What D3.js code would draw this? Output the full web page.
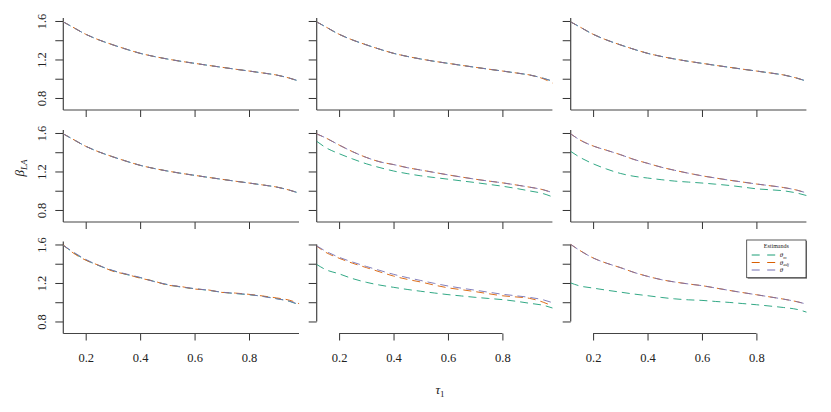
<!DOCTYPE html>
<html>
<head>
<meta charset="utf-8">
<script src="https://cdn.jsdelivr.net/npm/d3@7"></script>
<style>
  body { margin: 0; background: white; }
  text { font-family: "Liberation Serif", "DejaVu Serif", serif; fill: #222; }
</style>
</head>
<body>
<div id="viz"></div>
<script>
// tau grid shared by every panel
var tau = [0.118, 0.15, 0.2, 0.25, 0.3, 0.35, 0.4, 0.45, 0.5, 0.55, 0.6, 0.65, 0.7, 0.75, 0.8, 0.85, 0.9, 0.95, 0.984]

var xTicks = [0.2, 0.4, 0.6, 0.8]
var yTicks = [0.8, 1.0, 1.2, 1.4, 1.6]
var yLabels = [0.8, 1.2, 1.6]

var seriesNames = ["θm", "θadj", "θ"]
var seriesColors = ["#1B9E77", "#D95F02", "#7570B3"]

// values, one array per panel and estimand
var base = [1.59, 1.54, 1.462, 1.402, 1.352, 1.306, 1.264, 1.232, 1.205, 1.181, 1.16, 1.139, 1.119, 1.099, 1.08, 1.06, 1.039, 1.005, 0.975]
var r1c2Adj = [1.59, 1.54, 1.462, 1.402, 1.352, 1.306, 1.264, 1.232, 1.205, 1.181, 1.16, 1.139, 1.119, 1.099, 1.08, 1.06, 1.039, 1.0, 0.955]

var r2c2M = [1.513, 1.45, 1.385, 1.33, 1.28, 1.24, 1.205, 1.178, 1.155, 1.137, 1.12, 1.102, 1.085, 1.066, 1.047, 1.024, 0.998, 0.97, 0.936]
var r2c2T = [1.59, 1.55, 1.475, 1.405, 1.346, 1.30, 1.272, 1.24, 1.215, 1.19, 1.165, 1.142, 1.12, 1.10, 1.082, 1.06, 1.037, 1.01, 0.98]

var r2c3M = [1.408, 1.35, 1.28, 1.225, 1.18, 1.15, 1.132, 1.115, 1.10, 1.09, 1.08, 1.068, 1.055, 1.038, 1.02, 1.01, 0.999, 0.975, 0.95]
var r2c3T = [1.59, 1.53, 1.465, 1.42, 1.375, 1.325, 1.285, 1.245, 1.212, 1.182, 1.155, 1.132, 1.11, 1.09, 1.07, 1.052, 1.033, 1.005, 0.977]

var r3c1M = [1.59, 1.525, 1.44, 1.378, 1.328, 1.288, 1.255, 1.218, 1.182, 1.158, 1.14, 1.124, 1.104, 1.09, 1.078, 1.062, 1.038, 1.008, 0.972]
var r3c1Adj = [1.595, 1.52, 1.437, 1.382, 1.322, 1.29, 1.25, 1.22, 1.178, 1.163, 1.137, 1.128, 1.102, 1.095, 1.082, 1.065, 1.045, 1.02, 0.985]
var r3c1T = [1.59, 1.53, 1.445, 1.38, 1.33, 1.292, 1.258, 1.215, 1.185, 1.16, 1.142, 1.125, 1.105, 1.092, 1.08, 1.06, 1.036, 1.01, 0.975]

var r3c2M = [1.392, 1.34, 1.295, 1.245, 1.207, 1.178, 1.155, 1.133, 1.114, 1.096, 1.079, 1.065, 1.051, 1.039, 1.027, 1.01, 0.989, 0.968, 0.94]
var r3c2Adj = [1.582, 1.52, 1.457, 1.405, 1.36, 1.315, 1.272, 1.238, 1.21, 1.178, 1.15, 1.13, 1.11, 1.088, 1.067, 1.055, 1.04, 1.0, 0.96]
var r3c2T = [1.585, 1.532, 1.467, 1.417, 1.372, 1.33, 1.29, 1.256, 1.226, 1.196, 1.169, 1.146, 1.125, 1.104, 1.083, 1.067, 1.05, 1.025, 0.995]

var r3c3M = [1.2, 1.17, 1.147, 1.125, 1.105, 1.085, 1.068, 1.05, 1.035, 1.025, 1.019, 1.008, 0.998, 0.986, 0.974, 0.96, 0.945, 0.925, 0.897]
var r3c3T = [1.6, 1.54, 1.46, 1.405, 1.36, 1.31, 1.269, 1.235, 1.21, 1.19, 1.172, 1.148, 1.123, 1.1, 1.078, 1.055, 1.032, 1.005, 0.98]

// panels in reading order: [theta_m, theta_adj, theta]
var panels = [
    [base, base, base], [base, r1c2Adj, base], [base, base, base],
    [base, base, base], [r2c2M, r2c2T, r2c2T], [r2c3M, r2c3T, r2c3T],
    [r3c1M, r3c1Adj, r3c1T], [r3c2M, r3c2Adj, r3c2T], [r3c3M, r3c3T, r3c3T]
]

var panelLeft = [63.3, 316.7, 570.7]
var panelTop = [18, 130, 241.5]
var panelW = 235.7
var panelH = 92

var svg = d3.select("#viz")
    .append("svg")
    .attr("width", 831)
    .attr("height", 412)

var x = d3.scaleLinear().domain([0.1177, 0.9837]).range([0, panelW])
var y = d3.scaleLinear().domain([0.675, 1.631]).range([panelH, 0])

var line = d3.line()
    .x(d => x(d[0]))
    .y(d => y(d[1]))
    .curve(d3.curveMonotoneX)

// orange dashes are shifted a little so their tips peek out of the purple ones
var dashOffsets = [0, 2, 0]

panels.forEach((series, i) => {
    var row = Math.floor(i / 3)
    var col = i % 3
    var g = svg.append("g")
        .attr("transform", "translate(" + panelLeft[col] + "," + panelTop[row] + ")")

    // L shaped box, except bottom right panels which only get plain axes
    var box = row < 2 || col == 0

    var xAxis = g.append("g")
        .attr("transform", "translate(0," + panelH + ")")
        .call(d3.axisBottom(x).tickValues(xTicks).tickSize(7).tickFormat(d3.format(".1f")))
    xAxis.select(".domain").remove()
    xAxis.selectAll("line").attr("stroke", "#333")
    xAxis.selectAll("text")
        .attr("y", 28.3).attr("dy", 0)
        .style("font-size", "12.5px")
        .style("font-family", "Liberation Serif, serif")
        .attr("fill", "#222")
        .style("display", row == 2 ? null : "none")

    var yAxis = g.append("g")
        .call(d3.axisLeft(y).tickValues(yTicks).tickSize(8).tickFormat(d3.format(".1f")))
    yAxis.select(".domain").remove()
    yAxis.selectAll("line").attr("stroke", "#333")
    yAxis.selectAll("text")
        .attr("x", 0).attr("dy", 0)
        .attr("text-anchor", "middle")
        .attr("transform", "translate(-17,0) rotate(-90)")
        .style("font-size", "12.5px")
        .style("font-family", "Liberation Serif, serif")
        .attr("fill", "#222")
        .style("display", d => (col == 0 && yLabels.indexOf(d) >= 0) ? null : "none")

    // axis lines
    g.append("line")
        .attr("x1", box ? 0 : x(0.2)).attr("x2", box ? panelW : x(0.8))
        .attr("y1", panelH).attr("y2", panelH)
        .attr("stroke", "#444").attr("stroke-width", 1.2)
    g.append("line")
        .attr("x1", 0).attr("x2", 0)
        .attr("y1", box ? 0 : y(1.6)).attr("y2", box ? panelH : y(0.8))
        .attr("stroke", "#444").attr("stroke-width", 1.2)

    // estimand curves, green first and purple on top
    series.forEach((vals, k) => {
        g.append("path")
            .datum(tau.map((t, j) => [t, vals[j]]))
            .attr("d", line)
            .attr("fill", "none")
            .attr("stroke", seriesColors[k])
            .attr("stroke-width", 0.9)
            .attr("stroke-dasharray", "8,5")
            .attr("stroke-dashoffset", dashOffsets[k])
    })
})

// axis titles
svg.append("text")
    .attr("transform", "translate(24,168) rotate(-90)")
    .attr("text-anchor", "middle")
    .style("font-size", "13px")
    .html('<tspan font-style="italic">β</tspan><tspan font-style="italic" font-size="9px" dy="3">LA</tspan>')

svg.append("text")
    .attr("x", 440).attr("y", 394)
    .attr("text-anchor", "middle")
    .style("font-size", "13px")
    .html('<tspan font-style="italic">τ</tspan><tspan font-size="9px" dy="3">1</tspan>')

// legend in the bottom right panel
var legend = svg.append("g").attr("transform", "translate(746.7,240)")
legend.append("rect")
    .attr("x", 1).attr("y", 1).attr("width", 59.3).attr("height", 37.7)
    .attr("fill", "#777")
legend.append("rect")
    .attr("width", 59.3).attr("height", 37.7)
    .attr("fill", "white").attr("stroke", "#333").attr("stroke-width", 0.8)
legend.append("text")
    .attr("x", 29.6).attr("y", 8)
    .attr("text-anchor", "middle")
    .style("font-size", "6px")
    .text("Estimands")

var subs = ["m", "adj", ""]
seriesColors.forEach((c, k) => {
    var ly = 15 + k * 7.5
    legend.append("line")
        .attr("x1", 5).attr("x2", 29)
        .attr("y1", ly).attr("y2", ly)
        .attr("stroke", c).attr("stroke-width", 1)
        .attr("stroke-dasharray", "8,7.5")
    legend.append("text")
        .attr("x", 33).attr("y", ly + 2)
        .style("font-size", "7px")
        .html('<tspan font-style="italic">θ</tspan><tspan font-style="italic" font-size="4.5px" dy="1.5">' + subs[k] + '</tspan>')
})
</script>
</body>
</html>
